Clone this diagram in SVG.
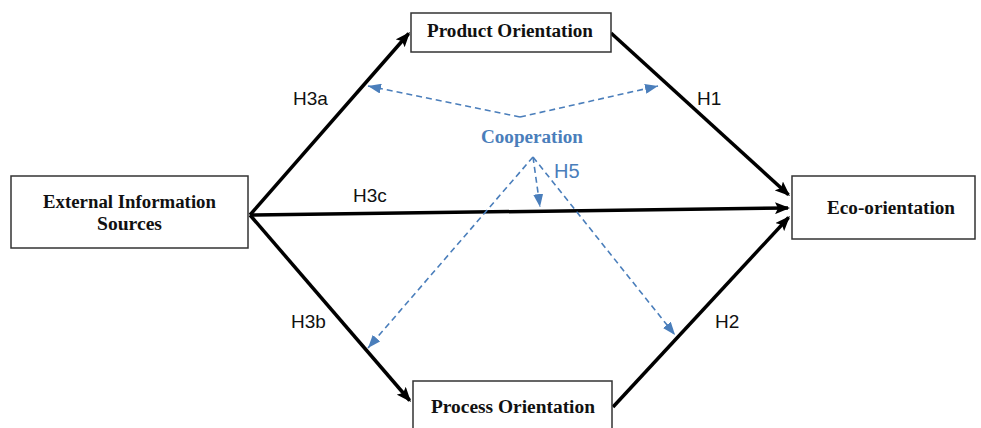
<svg xmlns="http://www.w3.org/2000/svg" width="981" height="428" viewBox="0 0 981 428">
  <style>
    .box { fill: #ffffff; stroke: #333333; stroke-width: 1.5; }
    .node-label { font-family: "Liberation Serif", "DejaVu Serif", serif; font-weight: bold; font-size: 18px; fill: #111111; }
    .path-main { stroke: #000000; stroke-width: 3.5; fill: none; marker-end: url(#headBlack); }
    .path-coop { stroke: #4a7ebb; stroke-width: 1.6; stroke-dasharray: 6 4; fill: none; }
    .coop-arrow { marker-end: url(#headBlue); }
    .hyp { font-family: "Liberation Sans", "Open Sans", sans-serif; font-size: 19px; fill: #111111; }
    .hyp-blue { font-family: "Liberation Sans", "Open Sans", sans-serif; font-size: 20px; fill: #4a7ebb; }
    .coop-label { font-family: "Liberation Serif", "DejaVu Serif", serif; font-weight: bold; font-size: 18px; fill: #4a7ebb; }
  </style>
  <defs>
    <marker id="headBlack" markerUnits="userSpaceOnUse" viewBox="0 0 15 12" markerWidth="15" markerHeight="12" refX="13" refY="6" orient="auto">
      <path d="M0,0 L15,6 L0,12 L3,6 z" fill="#000000"/>
    </marker>
    <marker id="headBlue" markerUnits="userSpaceOnUse" viewBox="0 0 13 10" markerWidth="13" markerHeight="10" refX="13" refY="5" orient="auto">
      <path d="M0,0 L13,5 L0,10 z" fill="#4a7ebb"/>
    </marker>
  </defs>

  <rect width="981" height="428" fill="#ffffff"/>

  <g id="connectors">
    <line class="path-main" x1="250" y1="215" x2="408.7" y2="33.5"/>
    <line class="path-main" x1="250" y1="215" x2="788" y2="208"/>
    <line class="path-main" x1="250" y1="215" x2="409.7" y2="400.5"/>
    <line class="path-main" x1="611" y1="33" x2="788.5" y2="194.7"/>
    <line class="path-main" x1="613" y1="407" x2="788.6" y2="217.5"/>

    <line class="path-coop coop-arrow" x1="520" y1="117" x2="368" y2="86"/>
    <line class="path-coop coop-arrow" x1="520" y1="117" x2="658" y2="86"/>
    <line class="path-coop coop-arrow" x1="533" y1="157" x2="368" y2="348"/>
    <line class="path-coop coop-arrow" x1="533" y1="157" x2="675" y2="335"/>
    <line class="path-coop coop-arrow" x1="533" y1="157" x2="540" y2="207"/>

    <text class="hyp" x="293" y="105">H3a</text>
    <text class="hyp" x="353" y="202">H3c</text>
    <text class="hyp" x="291" y="328">H3b</text>
    <text class="hyp" x="697" y="105">H1</text>
    <text class="hyp" x="715" y="328">H2</text>
    <text class="hyp-blue" x="554" y="178">H5</text>
    <text class="coop-label" x="481" y="143" textLength="102" lengthAdjust="spacingAndGlyphs">Cooperation</text>
  </g>

  <g id="external-information-sources">
    <rect class="box" x="11" y="176" width="237" height="72"/>
    <text class="node-label" x="43" y="208" textLength="173" lengthAdjust="spacingAndGlyphs">External Information</text>
    <text class="node-label" x="97" y="230" textLength="65" lengthAdjust="spacingAndGlyphs">Sources</text>
  </g>

  <g id="product-orientation">
    <rect class="box" x="411" y="13" width="200" height="39"/>
    <text class="node-label" x="427" y="37" textLength="166" lengthAdjust="spacingAndGlyphs">Product Orientation</text>
  </g>

  <g id="process-orientation">
    <rect class="box" x="413" y="381" width="199" height="60"/>
    <text class="node-label" x="431" y="413" textLength="164" lengthAdjust="spacingAndGlyphs">Process Orientation</text>
  </g>

  <g id="eco-orientation">
    <rect class="box" x="792" y="176" width="183" height="63"/>
    <text class="node-label" x="827" y="214" textLength="128" lengthAdjust="spacingAndGlyphs">Eco-orientation</text>
  </g>
</svg>
